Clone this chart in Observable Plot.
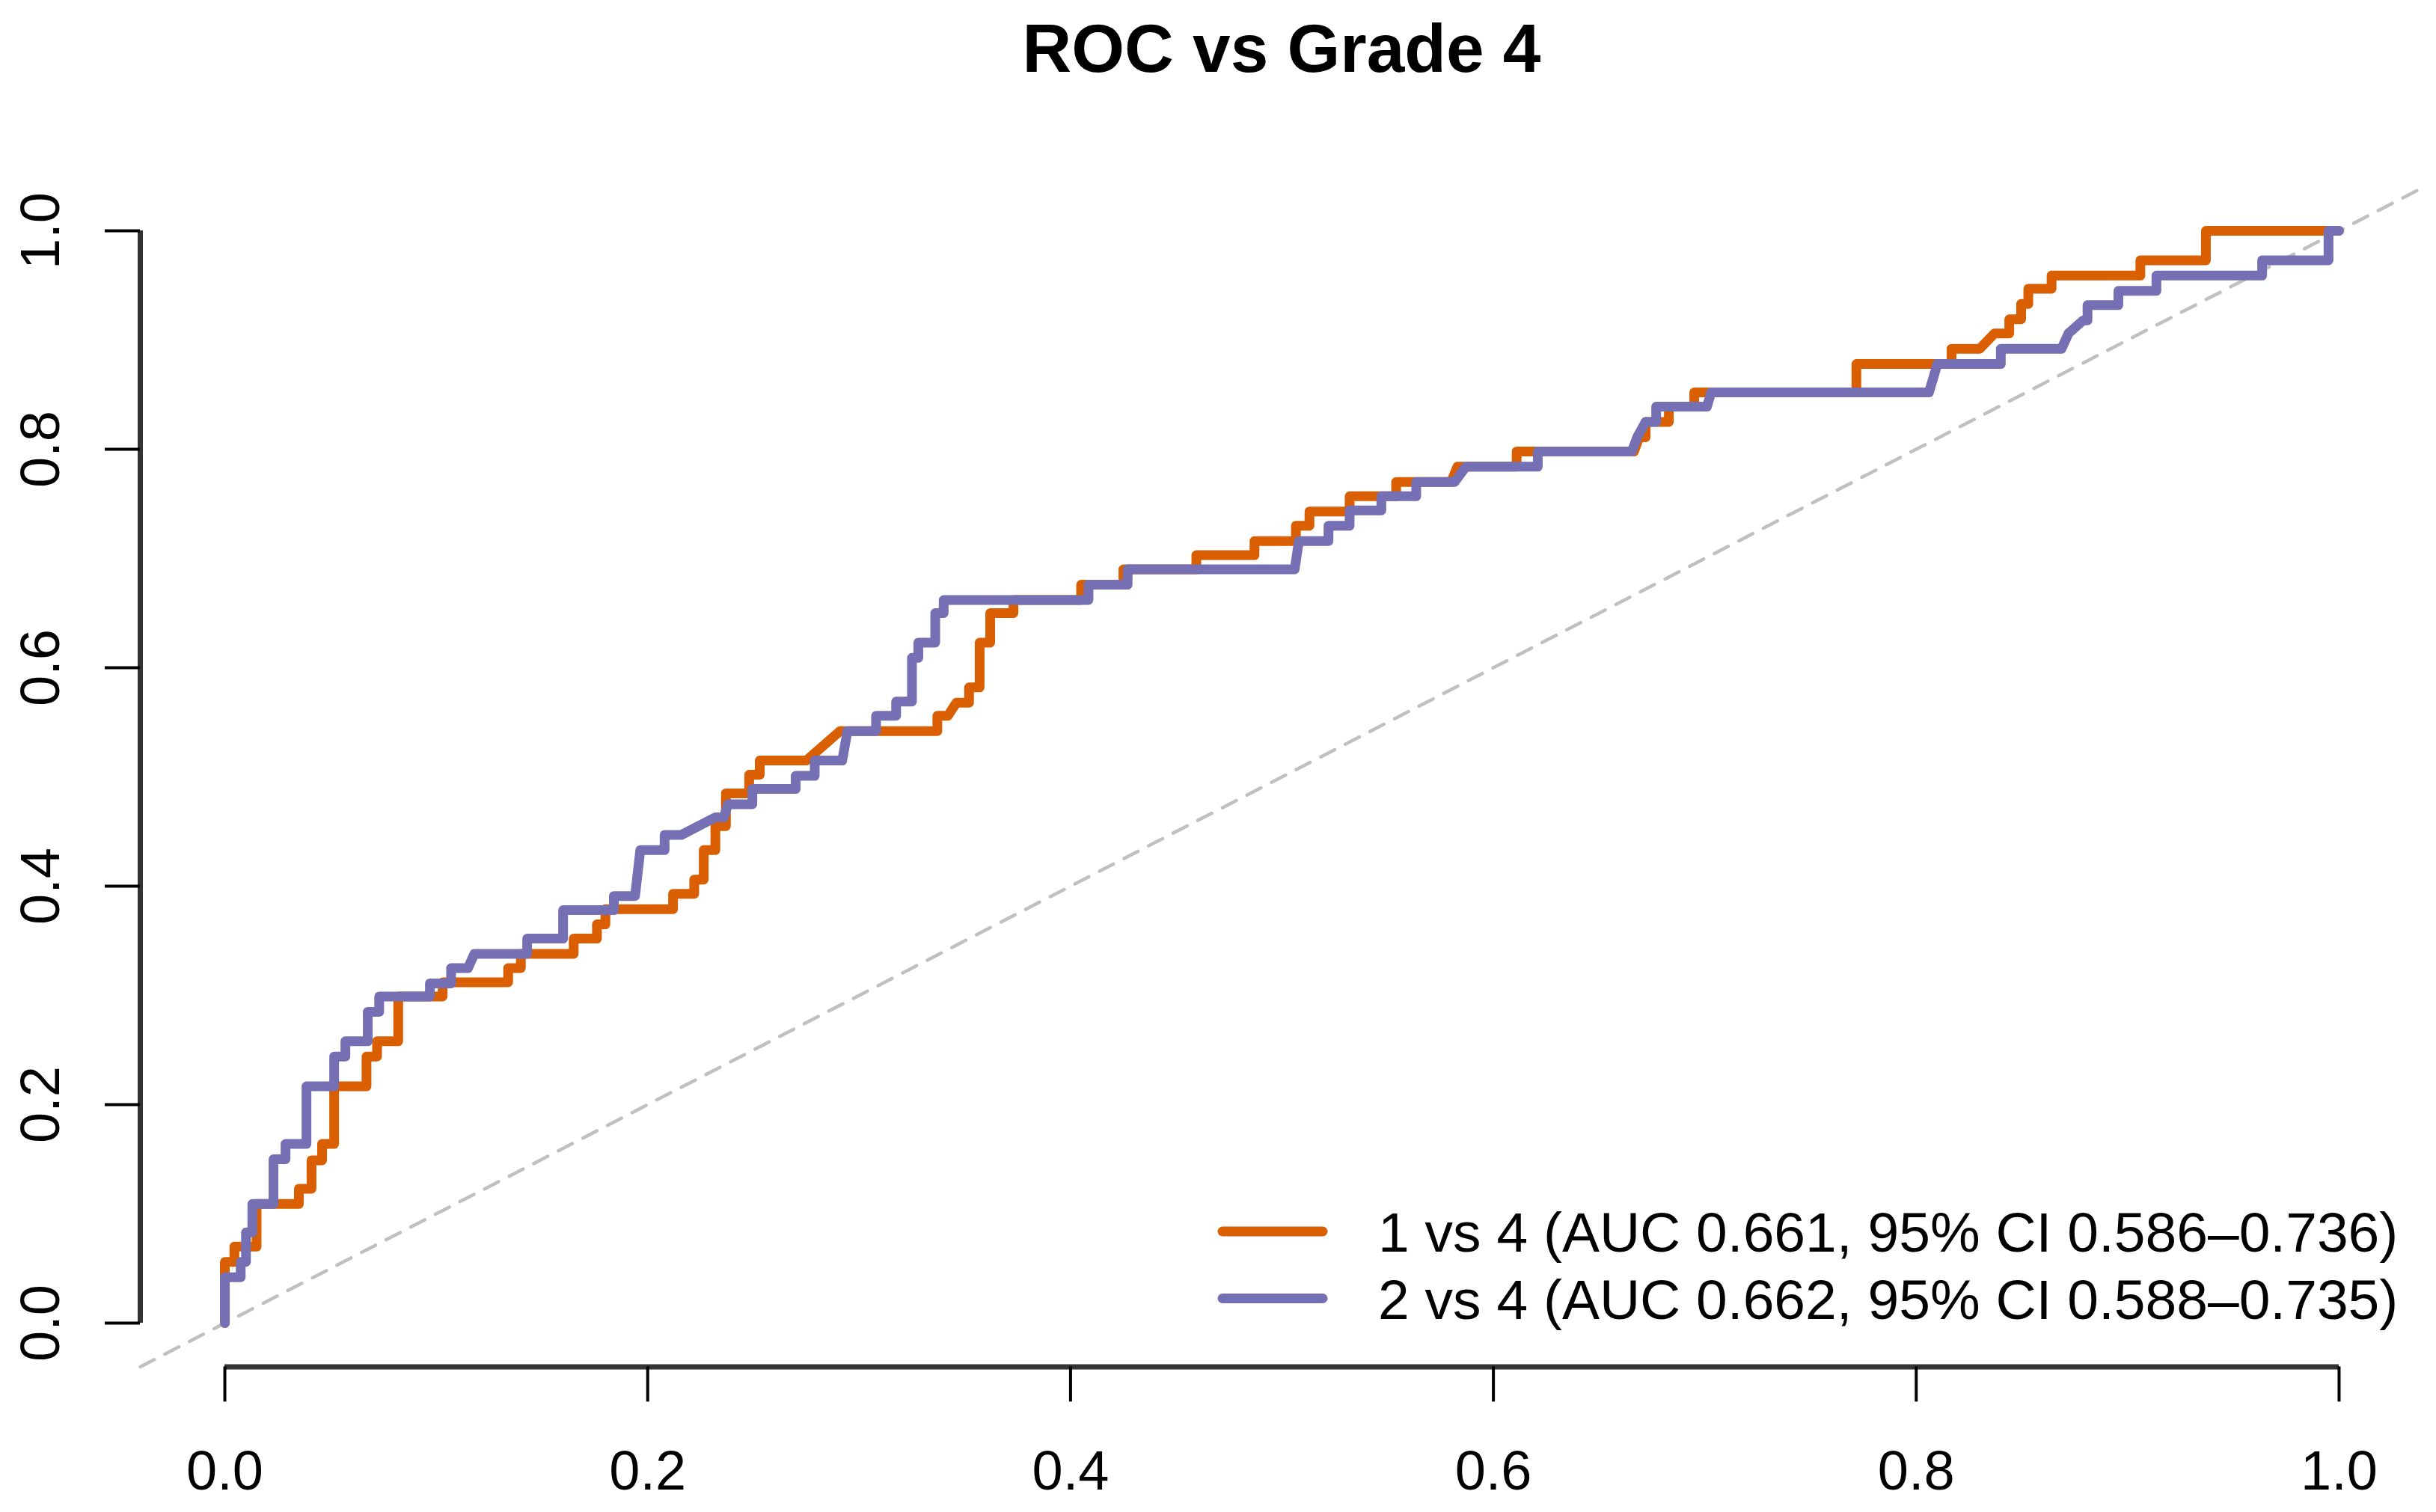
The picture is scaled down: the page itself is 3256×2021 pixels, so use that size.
<!DOCTYPE html>
<html>
<head>
<meta charset="utf-8">
<script src="https://cdn.jsdelivr.net/npm/d3@7"></script>
<script src="https://cdn.jsdelivr.net/npm/@observablehq/plot@0.6"></script>
<style>
html, body { margin: 0; padding: 0; background: #fff; }
#wrap { width: 3256px; height: 2021px; overflow: hidden; font-family: "Liberation Sans", Arial, Helvetica, sans-serif; }
#title { height: 150px; line-height: 129px; font-size: 91px; font-weight: bold; text-align: center;
         padding-left: 170px; box-sizing: border-box; white-space: nowrap; color: #000; }
#chart svg { display: block; }
</style>
</head>
<body>
<div id="wrap">
  <div id="title">ROC vs Grade 4</div>
  <div id="chart"></div>
</div>
<script>
// ---------- data ----------
const series = ["1 vs 4", "2 vs 4"];
const seriesColors = ["#D95F02", "#7570B3"];
const legendLabels = [
  "1 vs 4 (AUC 0.661, 95% CI 0.586\u20130.736)",
  "2 vs 4 (AUC 0.662, 95% CI 0.588\u20130.735)"
];
const xTicks = [0, 0.2, 0.4, 0.6, 0.8, 1.0];
const yTicks = [0, 0.2, 0.4, 0.6, 0.8, 1.0];

// 1 vs 4 ROC curve (false positive rate, true positive rate)
const fpr_1v4 = [0, 0, 0.0045, 0.0045, 0.015, 0.015, 0.035, 0.035, 0.041, 0.041, 0.046, 0.046, 0.0517, 0.0517,
  0.067, 0.067, 0.072, 0.072, 0.082, 0.082, 0.103, 0.103, 0.134, 0.134, 0.140, 0.140, 0.165, 0.165, 0.176, 0.176,
  0.180, 0.180, 0.212, 0.212, 0.222, 0.222, 0.2265, 0.2265, 0.232, 0.232, 0.237, 0.237, 0.248, 0.248, 0.253, 0.253,
  0.275, 0.291, 0.337, 0.337, 0.342, 0.346, 0.352, 0.352, 0.357, 0.357, 0.362, 0.362, 0.373, 0.373, 0.405, 0.405,
  0.425, 0.425, 0.4595, 0.4595, 0.487, 0.487, 0.5066, 0.5066, 0.513, 0.513, 0.532, 0.532, 0.554, 0.554, 0.580, 0.583,
  0.611, 0.611, 0.6665, 0.669, 0.672, 0.672, 0.683, 0.683, 0.695, 0.695, 0.7717, 0.7717, 0.8167, 0.8167, 0.830, 0.837,
  0.844, 0.844, 0.8496, 0.8496, 0.853, 0.853, 0.864, 0.864, 0.906, 0.906, 0.937, 0.937, 1.0];
const tpr_1v4 = [0, 0.056, 0.056, 0.070, 0.070, 0.109, 0.109, 0.123, 0.123, 0.149, 0.149, 0.164, 0.164, 0.2167,
  0.2167, 0.244, 0.244, 0.258, 0.258, 0.299, 0.299, 0.312, 0.312, 0.325, 0.325, 0.338, 0.338, 0.352, 0.352, 0.365,
  0.365, 0.379, 0.379, 0.393, 0.393, 0.406, 0.406, 0.433, 0.433, 0.455, 0.455, 0.485, 0.485, 0.502, 0.502, 0.515,
  0.515, 0.542, 0.542, 0.556, 0.556, 0.568, 0.568, 0.582, 0.582, 0.623, 0.623, 0.650, 0.650, 0.662, 0.662, 0.676,
  0.676, 0.690, 0.690, 0.703, 0.703, 0.716, 0.716, 0.730, 0.730, 0.743, 0.743, 0.757, 0.757, 0.770, 0.770, 0.784,
  0.784, 0.798, 0.798, 0.811, 0.811, 0.825, 0.825, 0.839, 0.839, 0.852, 0.852, 0.878, 0.878, 0.892, 0.892, 0.906,
  0.906, 0.919, 0.919, 0.933, 0.933, 0.947, 0.947, 0.959, 0.959, 0.973, 0.973, 1.0, 1.0];

// 2 vs 4 ROC curve
const fpr_2v4 = [0, 0, 0.0075, 0.0075, 0.010, 0.010, 0.013, 0.013, 0.023, 0.023, 0.0287, 0.0287, 0.0386, 0.0386,
  0.0517, 0.0517, 0.057, 0.057, 0.0676, 0.0676, 0.073, 0.073, 0.097, 0.097, 0.107, 0.107, 0.115, 0.118, 0.143, 0.143,
  0.160, 0.160, 0.184, 0.184, 0.194, 0.1965, 0.208, 0.208, 0.216, 0.232, 0.236, 0.238, 0.2495, 0.2495, 0.270, 0.270,
  0.279, 0.279, 0.292, 0.2945, 0.308, 0.308, 0.3175, 0.3175, 0.325, 0.325, 0.328, 0.328, 0.336, 0.336, 0.340, 0.340,
  0.4085, 0.4085, 0.427, 0.427, 0.506, 0.508, 0.522, 0.522, 0.532, 0.532, 0.547, 0.547, 0.5635, 0.5635, 0.5816, 0.587,
  0.621, 0.621, 0.6655, 0.668, 0.672, 0.677, 0.677, 0.701, 0.703, 0.806, 0.810, 0.840, 0.840, 0.8687, 0.872, 0.879,
  0.881, 0.881, 0.8956, 0.8956, 0.9136, 0.9136, 0.9636, 0.9636, 0.995, 0.995, 1.0];
const tpr_2v4 = [0, 0.042, 0.042, 0.056, 0.056, 0.083, 0.083, 0.109, 0.109, 0.150, 0.150, 0.164, 0.164, 0.2167,
  0.2167, 0.244, 0.244, 0.258, 0.258, 0.285, 0.285, 0.299, 0.299, 0.311, 0.311, 0.325, 0.325, 0.338, 0.338, 0.352,
  0.352, 0.378, 0.378, 0.391, 0.391, 0.433, 0.433, 0.447, 0.447, 0.463, 0.463, 0.475, 0.475, 0.489, 0.489, 0.501,
  0.501, 0.515, 0.515, 0.542, 0.542, 0.556, 0.556, 0.569, 0.569, 0.609, 0.609, 0.623, 0.623, 0.650, 0.650, 0.662,
  0.662, 0.676, 0.676, 0.690, 0.690, 0.716, 0.716, 0.730, 0.730, 0.744, 0.744, 0.757, 0.757, 0.770, 0.770, 0.784,
  0.784, 0.798, 0.798, 0.811, 0.825, 0.825, 0.839, 0.839, 0.852, 0.852, 0.878, 0.878, 0.892, 0.892, 0.906, 0.918,
  0.918, 0.932, 0.932, 0.945, 0.945, 0.959, 0.959, 0.973, 0.973, 1.0, 1.0];

// ---------- build ----------
const fprs = [fpr_1v4, fpr_2v4];
const tprs = [tpr_1v4, tpr_2v4];
const rows = [];
series.forEach((s, k) => fprs[k].forEach((f, i) => rows.push({series: s, fpr: f, tpr: tprs[k][i]})));

const axisDomain = [-0.04, 1.04];
const chance = axisDomain.map(v => ({v}));
const fmt = d3.format(".1f");
const FONT = '"Liberation Sans", Arial, Helvetica, sans-serif';

const chart = Plot.plot({
  width: 3256,
  height: 1871,
  marginLeft: 187,
  marginRight: 17,
  marginTop: 99.6,
  marginBottom: 194.6,
  style: {fontFamily: FONT, background: "white", color: "black", overflow: "visible"},
  x: {domain: axisDomain, axis: null},
  y: {domain: axisDomain, axis: null},
  color: {domain: series, range: seriesColors},
  marks: [
    Plot.line(chance, {x: "v", y: "v", stroke: "#c0c0c0", strokeWidth: 4.5, strokeDasharray: "21,16"}),
    Plot.ruleY([axisDomain[0]], {x1: xTicks[0], x2: xTicks[xTicks.length - 1], stroke: "#333", strokeWidth: 7}),
    Plot.ruleX([axisDomain[0]], {y1: yTicks[0], y2: yTicks[yTicks.length - 1], stroke: "#333", strokeWidth: 7}),
    Plot.axisX(xTicks, {anchor: "bottom", tickSize: 47, tickPadding: 65, fontSize: 74, tickFormat: fmt,
      strokeWidth: 4, stroke: "#000", fill: "#000", label: null}),
    Plot.axisY(yTicks, {anchor: "left", tickSize: 47, tickFormat: () => "", strokeWidth: 4, stroke: "#000", label: null}),
    Plot.text(yTicks, {y: d => d, text: d => fmt(d), frameAnchor: "left", dx: -109, rotate: -90,
      textAnchor: "middle", lineAnchor: "bottom", fontSize: 74, fill: "#000"}),
    Plot.line(rows, {x: "fpr", y: "tpr", z: "series", stroke: "series", strokeWidth: 13,
      strokeLinejoin: "round", strokeLinecap: "round"})
  ]
});

// legend (inside the plot area, bottom right)
const svg = d3.select(chart);
const lg = svg.append("g").attr("font-family", FONT).attr("font-size", 75).attr("fill", "#000")
  .attr("text-anchor", "start");
legendLabels.forEach((t, i) => {
  const yc = 1496 + i * 89.5;
  lg.append("line").attr("x1", 1634).attr("x2", 1768).attr("y1", yc).attr("y2", yc)
    .attr("stroke", seriesColors[i]).attr("stroke-width", 13).attr("stroke-linecap", "round");
  lg.append("text").attr("x", 1842).attr("y", yc + 27).attr("text-anchor", "start").text(t);
});

document.getElementById("chart").appendChild(chart);
</script>
</body>
</html>
